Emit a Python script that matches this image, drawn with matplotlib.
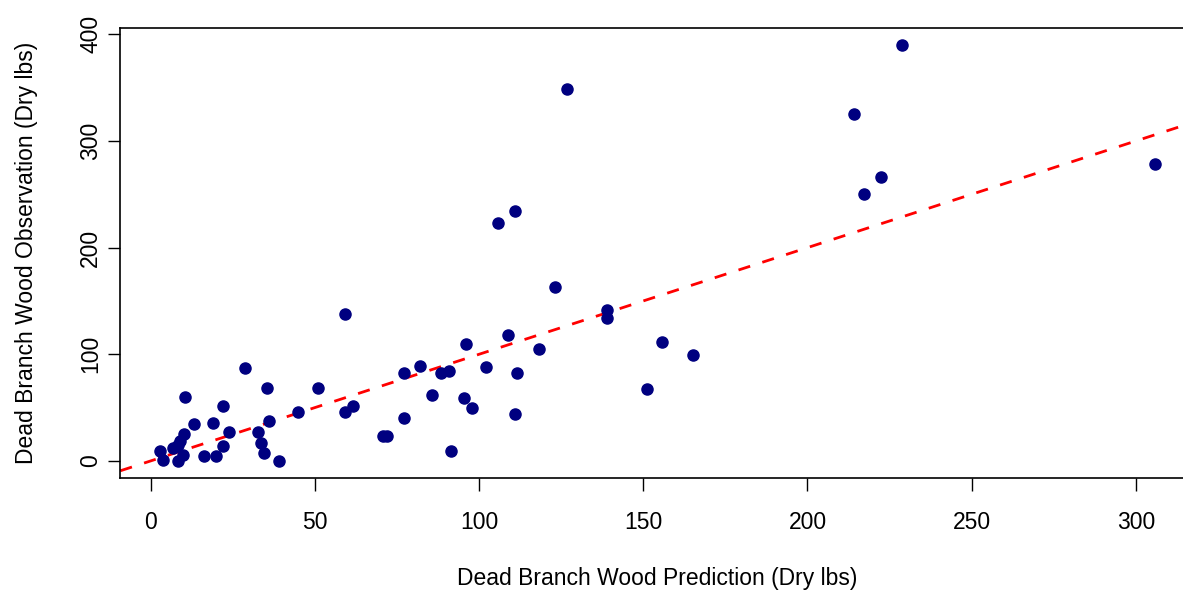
import numpy as np
import matplotlib
matplotlib.use("Agg")
import matplotlib.pyplot as plt

plt.rcParams['font.family'] = ['Liberation Sans', 'DejaVu Sans']

# predicted vs observed dead branch wood, dry lbs
prediction = [2.9, 3.9, 6.9, 8.5, 9.0, 10.2, 9.8, 8.3, 13.2, 10.5,
              16.4, 19.8, 18.9, 22.2, 22.2, 23.8, 28.8, 32.7, 33.6, 34.5,
              35.4, 36.0, 39.0, 44.8, 51.1, 59.2, 59.3, 61.7, 70.7, 72.1,
              77.2, 77.2, 82.1, 85.8, 88.3, 91.0, 91.4, 95.5, 96.0, 97.9,
              102.2, 105.9, 108.9, 110.9, 111.6, 111.0, 118.3, 123.2, 126.7, 138.9,
              138.9, 151.2, 155.7, 165.0, 214.1, 217.2, 222.5, 228.8, 305.8]
observation = [9.7, 0.9, 11.9, 14.5, 19.0, 25.3, 5.6, 0.3, 34.7, 60.3,
               4.7, 4.7, 35.9, 14.1, 51.8, 27.5, 86.9, 27.5, 16.6, 7.2,
               68.7, 37.5, 0.0, 45.6, 68.7, 45.6, 137.6, 51.8, 23.4, 23.4,
               82.8, 40.0, 89.3, 61.9, 82.2, 84.6, 9.7, 59.3, 109.7, 49.4,
               87.8, 222.8, 118.1, 234.6, 82.5, 44.0, 104.7, 163.4, 348.7, 141.5,
               134.3, 67.2, 111.2, 99.0, 325.3, 250.3, 266.5, 390.0, 278.7]

# 1:1 reference line
line_intercept = 0
line_slope = 1

x_ticks = [0, 50, 100, 150, 200, 250, 300]
y_ticks = [0, 100, 200, 300, 400]

x = np.array(prediction)
y = np.array(observation)

def pad_range(v):
    lo, hi = v.min(), v.max()
    d = 0.04 * (hi - lo)
    return lo - d, hi + d

xlim = pad_range(x)
ylim = pad_range(y)

W, H = 1183, 591
fig = plt.figure(figsize=(W / 100, H / 100), dpi=100)
left_px, right_px = 120.3, 1194.8
top_px, bottom_px = 28.3, 477.6
ax = fig.add_axes([left_px / W, 1 - bottom_px / H,
                   (right_px - left_px) / W, (bottom_px - top_px) / H])

ax.axline((0, line_intercept), slope=line_slope, color='red', lw=2.0,
          dashes=(4.4, 4.6), zorder=2)
ax.plot(x, y, 'o', color='navy', ms=8, mec='navy', zorder=3)

ax.set_xlim(*xlim)
ax.set_ylim(*ylim)
ax.set_xticks(x_ticks)
ax.set_yticks(y_ticks)
fs = 16.5
ax.tick_params(labelsize=fs, length=9, width=1, direction='out')
ax.tick_params(axis='x', pad=15)
ax.tick_params(axis='y', labelrotation=90, pad=4)
for lab in ax.get_yticklabels():
    lab.set_va('center')
for s in ax.spines.values():
    s.set_linewidth(1.2)

ax.set_xlabel('Dead Branch Wood Prediction (Dry lbs)', fontsize=fs, labelpad=24)
ax.set_ylabel('Dead Branch Wood Observation (Dry lbs)', fontsize=fs, labelpad=30)

fig.savefig('out.png', dpi=100)
